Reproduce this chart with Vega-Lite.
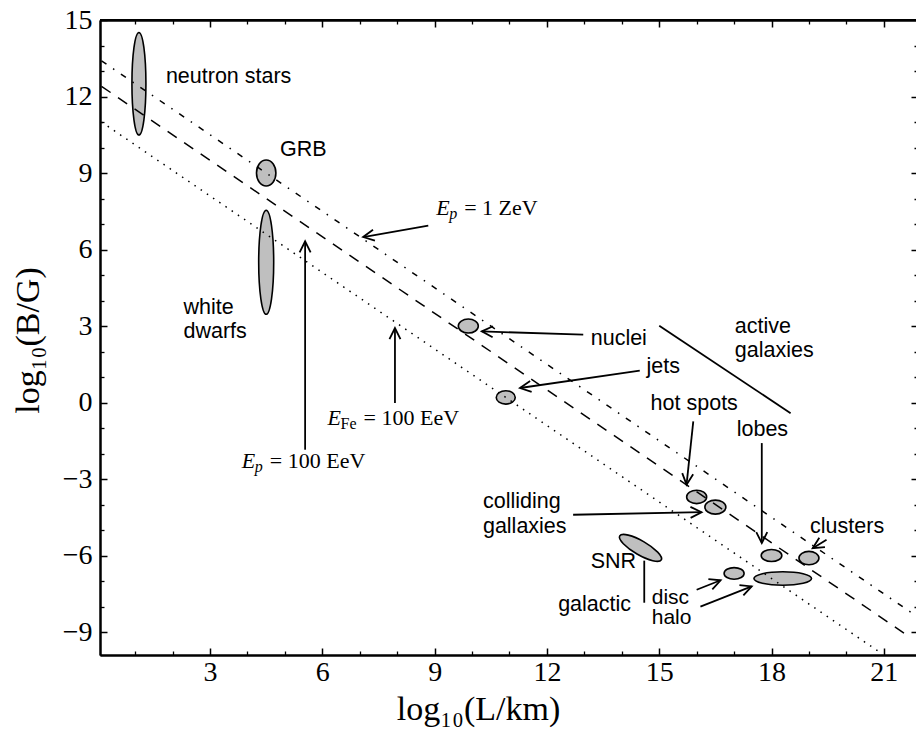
{
  "$schema": "https://vega.github.io/schema/vega-lite/v6.json",
  "width": 816,
  "height": 635,
  "autosize": {"type": "none"},
  "padding": {"left": 100, "top": 20, "right": 0, "bottom": 74},
  "background": "white",
  "config": {"view": {"stroke": "black", "strokeWidth": 2, "strokeDash": [816, 3000]}, "axis": {"grid": false}},
  "resolve": {"axis": {"x": "independent", "y": "independent"}},
  "datasets": {
    "ellipses": [
      {"name": "neutron stars", "L": 1.1, "B": 12.5},
      {"name": "GRB", "L": 4.5, "B": 9.0},
      {"name": "white dwarfs", "L": 4.5, "B": 5.5},
      {"name": "nuclei", "L": 9.9, "B": 3.0},
      {"name": "jets", "L": 10.9, "B": 0.2},
      {"name": "hot spots A", "L": 16.0, "B": -3.7},
      {"name": "hot spots B", "L": 16.5, "B": -4.1},
      {"name": "lobes", "L": 18.0, "B": -6.0},
      {"name": "clusters", "L": 19.0, "B": -6.1},
      {"name": "disc", "L": 17.0, "B": -6.7},
      {"name": "halo", "L": 18.3, "B": -6.9},
      {"name": "SNR", "L": 14.5, "B": -5.7}
    ],
    "limits": [
      {"line": "Ep 1 ZeV", "L": 0.1, "B": 13.4},
      {"line": "Ep 1 ZeV", "L": 21.8, "B": -8.3},
      {"line": "Ep 100 EeV", "L": 0.1, "B": 12.4},
      {"line": "Ep 100 EeV", "L": 21.7, "B": -9.2},
      {"line": "EFe 100 EeV", "L": 0.1, "B": 11.0},
      {"line": "EFe 100 EeV", "L": 20.85, "B": -9.75}
    ],
    "segments": [
      {"L": 15.0, "B": 3.01, "L2": 18.51, "B2": -0.42},
      {"L": 14.6, "B": -6.2, "L2": 14.6, "B2": -7.85}
    ],
    "arrows": [
      {"L": 8.83, "B": 6.94, "L2": 7.09, "B2": 6.49, "dir": 170},
      {"L": 5.54, "B": -1.85, "L2": 5.54, "B2": 6.32, "dir": 270},
      {"L": 7.94, "B": -0.02, "L2": 7.94, "B2": 2.92, "dir": 270},
      {"L": 12.97, "B": 2.66, "L2": 10.26, "B2": 2.79, "dir": 182},
      {"L": 14.48, "B": 1.25, "L2": 11.28, "B2": 0.57, "dir": 172},
      {"L": 15.91, "B": -0.74, "L2": 15.73, "B2": -3.22, "dir": 96},
      {"L": 17.74, "B": -1.59, "L2": 17.74, "B2": -5.51, "dir": 90},
      {"L": 12.7, "B": -4.4, "L2": 16.13, "B2": -4.3, "dir": 359},
      {"L": 19.47, "B": -5.38, "L2": 19.1, "B2": -5.71, "dir": 149},
      {"L": 16.0, "B": -7.34, "L2": 16.64, "B2": -6.97, "dir": 339},
      {"L": 16.1, "B": -8.0, "L2": 17.47, "B2": -7.21, "dir": 339}
    ],
    "labels": [
      {"text": "neutron stars", "L": 1.82, "B": 12.53},
      {"text": "GRB", "L": 4.87, "B": 9.65},
      {"text": "white", "L": 2.29, "B": 3.48},
      {"text": "dwarfs", "L": 2.29, "B": 2.53},
      {"text": "nuclei", "L": 13.17, "B": 2.27},
      {"text": "active", "L": 17.02, "B": 2.73},
      {"text": "galaxies", "L": 17.02, "B": 1.78},
      {"text": "jets", "L": 14.66, "B": 1.16},
      {"text": "hot spots", "L": 14.77, "B": -0.28},
      {"text": "lobes", "L": 17.07, "B": -1.33},
      {"text": "colliding", "L": 10.29, "B": -4.13},
      {"text": "gallaxies", "L": 10.29, "B": -5.11},
      {"text": "SNR", "L": 13.17, "B": -6.49},
      {"text": "clusters", "L": 19.03, "B": -5.12},
      {"text": "galactic", "L": 12.3, "B": -8.19}
    ],
    "stacked": [
      {"text": "disc\nhalo", "L": 14.8, "B": -7.9}
    ],
    "math": [
      {"L": 9.04, "B": 7.36, "sub": "p", "rest": "= 1 ZeV"},
      {"L": 6.14, "B": -0.87, "sub": "Fe", "rest": "= 100 EeV"},
      {"L": 3.85, "B": -2.57, "sub": "p", "rest": "= 100 EeV"}
    ]
  },
  "layer": [
    {
      "data": {"name": "ellipses"},
      "mark": {"type": "point", "filled": true, "fill": "#bfbfbf", "stroke": "black", "strokeWidth": 1.6, "opacity": 1, "size": 4},
      "encoding": {
        "x": {"field": "L", "type": "quantitative", "scale": {"domain": [0.06, 21.86], "nice": false, "zero": false},
          "axis": {"orient": "bottom", "values": [], "domain": true, "domainOpacity": 0, "labels": false, "ticks": false, "title": null}},
        "y": {"field": "B", "type": "quantitative", "scale": {"domain": [-9.9, 15], "nice": false, "zero": false},
          "axis": {"orient": "left", "values": [], "domain": true, "domainOpacity": 0, "labels": false, "ticks": false, "title": null}},
        "shape": {"field": "name", "type": "nominal", "legend": null,
          "scale": {"domain": ["neutron stars", "GRB", "white dwarfs", "nuclei", "jets", "hot spots A", "hot spots B", "lobes", "clusters", "disc", "halo", "SNR"],
            "range": [
              "M 7 0 C 7 28.33 3.87 51.3 0 51.3 C -3.87 51.3 -7 28.33 -7 0 C -7 -28.33 -3.87 -51.3 0 -51.3 C 3.87 -51.3 7 -28.33 7 0 Z",
              "M 9.7 0 C 9.7 7.18 5.36 13 0 13 C -5.36 13 -9.7 7.18 -9.7 0 C -9.7 -7.18 -5.36 -13 0 -13 C 5.36 -13 9.7 -7.18 9.7 0 Z",
              "M 7.5 0 C 7.5 28.72 4.14 52 0 52 C -4.14 52 -7.5 28.72 -7.5 0 C -7.5 -28.72 -4.14 -52 0 -52 C 4.14 -52 7.5 -28.72 7.5 0 Z",
              "M 10 0 C 10 3.87 5.52 7 0 7 C -5.52 7 -10 3.87 -10 0 C -10 -3.87 -5.52 -7 0 -7 C 5.52 -7 10 -3.87 10 0 Z",
              "M 9.5 0 C 9.5 3.7 5.25 6.7 0 6.7 C -5.25 6.7 -9.5 3.7 -9.5 0 C -9.5 -3.7 -5.25 -6.7 0 -6.7 C 5.25 -6.7 9.5 -3.7 9.5 0 Z",
              "M 10 0 C 10 3.7 5.52 6.7 0 6.7 C -5.52 6.7 -10 3.7 -10 0 C -10 -3.7 -5.52 -6.7 0 -6.7 C 5.52 -6.7 10 -3.7 10 0 Z",
              "M 10.5 0 C 10.5 3.87 5.8 7 0 7 C -5.8 7 -10.5 3.87 -10.5 0 C -10.5 -3.87 -5.8 -7 0 -7 C 5.8 -7 10.5 -3.87 10.5 0 Z",
              "M 10.3 0 C 10.3 3.31 5.69 6 0 6 C -5.69 6 -10.3 3.31 -10.3 0 C -10.3 -3.31 -5.69 -6 0 -6 C 5.69 -6 10.3 -3.31 10.3 0 Z",
              "M 10 0 C 10 3.7 5.52 6.7 0 6.7 C -5.52 6.7 -10 3.7 -10 0 C -10 -3.7 -5.52 -6.7 0 -6.7 C 5.52 -6.7 10 -3.7 10 0 Z",
              "M 10 0 C 10 3.2 5.52 5.8 0 5.8 C -5.52 5.8 -10 3.2 -10 0 C -10 -3.2 -5.52 -5.8 0 -5.8 C 5.52 -5.8 10 -3.2 10 0 Z",
              "M 28.8 0 C 28.8 3.7 15.91 6.7 0 6.7 C -15.91 6.7 -28.8 3.7 -28.8 0 C -28.8 -3.7 -15.91 -6.7 0 -6.7 C 15.91 -6.7 28.8 -3.7 28.8 0 Z",
              "M 20.78 12 C 18.85 15.35 7.98 12.69 -3.5 6.06 C -14.98 -0.57 -22.72 -8.65 -20.78 -12 C -18.85 -15.35 -7.98 -12.69 3.5 -6.06 C 14.98 0.57 22.72 8.65 20.78 12 Z"
            ]}}
      }
    },
    {
      "data": {"name": "limits"},
      "transform": [{"filter": "datum.line === 'EFe 100 EeV'"}],
      "mark": {"type": "line", "stroke": "black", "strokeWidth": 1.5, "strokeDash": [1.5, 6]},
      "encoding": {
        "x": {"field": "L", "type": "quantitative", "scale": {"domain": [0.06, 21.86], "nice": false, "zero": false},
          "axis": {"orient": "bottom", "values": [3, 6, 9, 12, 15, 18, 21], "tickSize": -7, "tickWidth": 1.5, "tickColor": "black",
            "domain": true, "domainColor": "black", "domainWidth": 2, "labelFont": "Liberation Serif", "labelFontSize": 28,
            "labelColor": "black", "labelPadding": 10, "title": "log₁₀(L/km)", "titleFont": "Liberation Serif", "titleFontSize": 34,
            "titleFontWeight": "normal", "titleColor": "black", "titleX": 378, "titleY": 64, "titleBaseline": "alphabetic"}},
        "y": {"field": "B", "type": "quantitative", "scale": {"domain": [-9.9, 15], "nice": false, "zero": false},
          "axis": {"orient": "left", "values": [-9, -6, -3, 0, 3, 6, 9, 12, 15], "tickSize": -7, "tickWidth": 1.5, "tickColor": "black",
            "domain": true, "domainColor": "black", "domainWidth": 2, "labelFont": "Liberation Serif", "labelFontSize": 28,
            "labelColor": "black", "labelPadding": 15, "labelExpr": "(datum.value < 0 ? '−' : '') + abs(datum.value)",
            "title": "log₁₀(B/G)", "titleFont": "Liberation Serif", "titleFontSize": 34, "titleFontWeight": "normal", "titleColor": "black",
            "titleX": -62, "titleY": 320, "titleAngle": -90, "titleBaseline": "alphabetic", "titleAlign": "center"}}
      }
    },
    {
      "data": {"name": "limits"},
      "transform": [{"filter": "datum.line === 'Ep 100 EeV'"}],
      "mark": {"type": "line", "stroke": "black", "strokeWidth": 1.5, "strokeDash": [11, 9]},
      "encoding": {
        "x": {"field": "L", "type": "quantitative", "scale": {"domain": [0.06, 21.86], "nice": false, "zero": false},
          "axis": {"orient": "top", "values": [3, 6, 9, 12, 15, 18, 21], "tickSize": -7, "tickWidth": 1.5, "tickColor": "black", "domain": true, "domainColor": "black", "domainWidth": 2, "labelExpr": "''", "title": null}},
        "y": {"field": "B", "type": "quantitative", "scale": {"domain": [-9.9, 15], "nice": false, "zero": false},
          "axis": {"orient": "right", "offset": 2, "values": [-9, -6, -3, 0, 3, 6, 9, 12], "tickSize": -7, "tickWidth": 1.5, "tickColor": "black", "domain": false, "labelExpr": "''", "title": null}}
      }
    },
    {
      "data": {"name": "limits"},
      "transform": [{"filter": "datum.line === 'Ep 1 ZeV'"}],
      "mark": {"type": "line", "stroke": "black", "strokeWidth": 1.5, "strokeDash": [6, 8, 1.5, 8]},
      "encoding": {
        "x": {"field": "L", "type": "quantitative", "scale": {"domain": [0.06, 21.86], "nice": false, "zero": false},
          "axis": {"orient": "bottom", "values": [1, 2, 4, 5, 7, 8, 10, 11, 13, 14, 16, 17, 19, 20], "tickSize": -4, "tickWidth": 1.3, "tickColor": "black", "domain": true, "domainColor": "black", "domainWidth": 2, "labelExpr": "''", "title": null}},
        "y": {"field": "B", "type": "quantitative", "scale": {"domain": [-9.9, 15], "nice": false, "zero": false},
          "axis": {"orient": "left", "values": [-8, -7, -5, -4, -2, -1, 1, 2, 4, 5, 7, 8, 10, 11, 13, 14], "tickSize": -4, "tickWidth": 1.3, "tickColor": "black", "domain": true, "domainColor": "black", "domainWidth": 2, "labelExpr": "''", "title": null}}
      }
    },
    {
      "data": {"name": "segments"},
      "mark": {"type": "rule", "stroke": "black", "strokeWidth": 1.8},
      "encoding": {
        "x": {"field": "L", "type": "quantitative", "scale": {"domain": [0.06, 21.86], "nice": false, "zero": false},
          "axis": {"orient": "top", "values": [1, 2, 4, 5, 7, 8, 10, 11, 13, 14, 16, 17, 19, 20], "tickSize": -4, "tickWidth": 1.3, "tickColor": "black", "domain": true, "domainColor": "black", "domainWidth": 2, "labelExpr": "''", "title": null}},
        "y": {"field": "B", "type": "quantitative", "scale": {"domain": [-9.9, 15], "nice": false, "zero": false},
          "axis": {"orient": "right", "offset": 2, "values": [-8, -7, -5, -4, -2, -1, 1, 2, 4, 5, 7, 8, 10, 11, 13, 14], "tickSize": -4, "tickWidth": 1.3, "tickColor": "black", "domain": false, "labelExpr": "''", "title": null}},
        "x2": {"field": "L2"},
        "y2": {"field": "B2"}
      }
    },
    {
      "layer": [
        {
          "data": {"name": "arrows"},
          "mark": {"type": "rule", "stroke": "black", "strokeWidth": 1.8},
          "encoding": {
            "x": {"field": "L", "type": "quantitative"},
            "y": {"field": "B", "type": "quantitative"},
            "x2": {"field": "L2"},
            "y2": {"field": "B2"}
          }
        },
        {
          "data": {"name": "arrows"},
          "mark": {"type": "point", "filled": false, "stroke": "black", "strokeWidth": 1.8, "opacity": 1, "size": 4,
            "shape": "M -11 -5.5 L 0 0 L -11 5.5", "strokeJoin": "miter"},
          "encoding": {
            "x": {"field": "L2", "type": "quantitative"},
            "y": {"field": "B2", "type": "quantitative"},
            "angle": {"field": "dir", "type": "quantitative", "scale": null}
          }
        },
        {
          "data": {"name": "labels"},
          "mark": {"type": "text", "align": "left", "baseline": "alphabetic", "font": "Liberation Sans", "fontSize": 21.5, "color": "black"},
          "encoding": {
            "x": {"field": "L", "type": "quantitative"},
            "y": {"field": "B", "type": "quantitative"},
            "text": {"field": "text"}
          }
        },
        {
          "data": {"name": "stacked"},
          "mark": {"type": "text", "align": "left", "baseline": "alphabetic", "font": "Liberation Sans", "fontSize": 21, "color": "black", "lineBreak": "\n", "lineHeight": 20.5},
          "encoding": {
            "x": {"field": "L", "type": "quantitative"},
            "y": {"field": "B", "type": "quantitative"},
            "text": {"field": "text"}
          }
        },
        {
          "data": {"name": "math"},
          "mark": {"type": "text", "align": "left", "baseline": "alphabetic", "font": "Liberation Serif", "fontStyle": "italic", "fontSize": 22, "color": "black"},
          "encoding": {
            "x": {"field": "L", "type": "quantitative"},
            "y": {"field": "B", "type": "quantitative"},
            "text": {"value": "E"}
          }
        },
        {
          "data": {"name": "math"},
          "transform": [{"filter": "datum.sub === 'p'"}],
          "mark": {"type": "text", "align": "left", "baseline": "alphabetic", "font": "Liberation Serif", "fontStyle": "italic", "fontSize": 16, "color": "black", "dx": 13, "dy": 4},
          "encoding": {
            "x": {"field": "L", "type": "quantitative"},
            "y": {"field": "B", "type": "quantitative"},
            "text": {"field": "sub"}
          }
        },
        {
          "data": {"name": "math"},
          "transform": [{"filter": "datum.sub === 'Fe'"}],
          "mark": {"type": "text", "align": "left", "baseline": "alphabetic", "font": "Liberation Serif", "fontSize": 16, "color": "black", "dx": 13, "dy": 4},
          "encoding": {
            "x": {"field": "L", "type": "quantitative"},
            "y": {"field": "B", "type": "quantitative"},
            "text": {"field": "sub"}
          }
        },
        {
          "data": {"name": "math"},
          "transform": [{"filter": "datum.sub === 'p'"}],
          "mark": {"type": "text", "align": "left", "baseline": "alphabetic", "font": "Liberation Serif", "fontSize": 22, "color": "black", "dx": 28},
          "encoding": {
            "x": {"field": "L", "type": "quantitative"},
            "y": {"field": "B", "type": "quantitative"},
            "text": {"field": "rest"}
          }
        },
        {
          "data": {"name": "math"},
          "transform": [{"filter": "datum.sub === 'Fe'"}],
          "mark": {"type": "text", "align": "left", "baseline": "alphabetic", "font": "Liberation Serif", "fontSize": 22, "color": "black", "dx": 36},
          "encoding": {
            "x": {"field": "L", "type": "quantitative"},
            "y": {"field": "B", "type": "quantitative"},
            "text": {"field": "rest"}
          }
        }
      ],
      "encoding": {
        "x": {"scale": {"domain": [0.06, 21.86], "nice": false, "zero": false},
          "axis": {"orient": "bottom", "values": [], "domain": true, "domainOpacity": 0, "labels": false, "ticks": false, "title": null}},
        "y": {"scale": {"domain": [-9.9, 15], "nice": false, "zero": false},
          "axis": {"orient": "left", "values": [], "domain": true, "domainOpacity": 0, "labels": false, "ticks": false, "title": null}}
      }
    }
  ]
}
